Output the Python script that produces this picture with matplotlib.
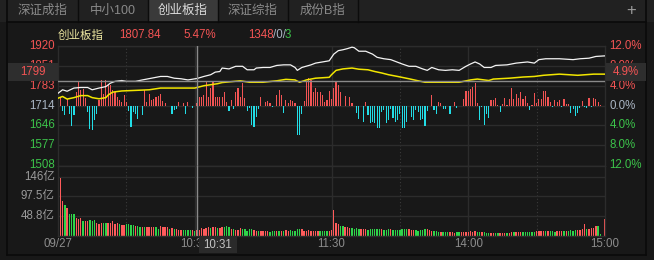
import matplotlib
matplotlib.use('Agg')
import matplotlib.pyplot as plt
from matplotlib.patches import Rectangle
from matplotlib.lines import Line2D

plt.rcParams['font.family'] = ['Liberation Sans', 'Noto Sans CJK SC']

# ---- data ----
tabs = ['深证成指', '中小100', '创业板指', '深证综指', '成份B指']
active_tab = 2
index_name = '创业板指'
prev_close = 1714
cursor_price = 1807.84
cursor_pct = 5.47
up_count, flat_count, down_count = 1348, 0, 3
cursor_minute = 61
cursor_time = '10:31'
cursor_level = 1799
cursor_level_pct = '4.9%'

price_ticks = [1920, 1851, 1783, 1714, 1646, 1577, 1508]
pct_ticks = [12.0, 8.0, 4.0, 0.0, -4.0, -8.0, -12.0]
vol_ticks = [146, 97.5, 48.8]
vol_tick_labels = ['146亿', '97.5亿', '48.8亿']
time_labels = ['09/27', '10:30', '11:30', '14:00', '15:00']
time_label_minutes = [0, 60, 120, 180, 240]

# index line (minute from 9:30, trading minutes only)
idx_minutes = [0, 2, 4, 7, 10, 13, 15, 18, 21, 23, 25, 28, 30, 34, 37, 41, 45, 48, 51, 54,
               57, 61, 64, 67, 69, 71, 72, 75, 78, 81, 83, 86, 87, 90, 93, 96, 99, 102, 104, 105,
               107, 111, 113, 116, 119, 121, 123, 125, 127, 129, 130, 132, 135, 138, 140, 143, 146, 148, 151, 154,
               157, 160, 162, 164, 167, 170, 173, 176, 179, 181, 183, 185, 187, 190, 192, 197, 201, 206, 209, 211,
               214, 220, 226, 229, 233, 236, 240]
idx_prices = [1757, 1769, 1764, 1775, 1777, 1777, 1769, 1775, 1780, 1792, 1798, 1801, 1798, 1798, 1803, 1809, 1815, 1815, 1809, 1807,
              1803, 1808, 1815, 1821, 1830, 1832, 1844, 1841, 1850, 1850, 1838, 1838, 1844, 1846, 1846, 1853, 1855, 1855, 1846, 1836,
              1846, 1855, 1861, 1865, 1869, 1892, 1904, 1907, 1911, 1916, 1914, 1902, 1902, 1892, 1881, 1876, 1873, 1867, 1858, 1850,
              1850, 1841, 1836, 1846, 1838, 1836, 1838, 1836, 1850, 1858, 1865, 1858, 1846, 1846, 1853, 1855, 1861, 1865, 1861, 1873,
              1876, 1876, 1873, 1876, 1878, 1884, 1886]

# yellow line
avg_minutes = [0, 2, 4, 7, 10, 13, 15, 18, 21, 22, 24, 28, 34, 40, 45, 60, 64, 70, 72, 80,
               84, 90, 96, 100, 104, 106, 109, 113, 119, 120, 122, 125, 129, 132, 136, 139, 142, 145, 149, 154,
               158, 161, 176, 181, 184, 189, 191, 198, 204, 209, 213, 220, 228, 235, 240]
avg_prices = [1740, 1746, 1737, 1742, 1749, 1749, 1742, 1738, 1742, 1751, 1761, 1765, 1767, 1769, 1775, 1775, 1783, 1790, 1794, 1800,
              1795, 1795, 1800, 1805, 1803, 1795, 1803, 1809, 1812, 1821, 1836, 1841, 1844, 1840, 1838, 1832, 1827, 1821, 1815, 1807,
              1800, 1795, 1795, 1803, 1806, 1801, 1806, 1809, 1813, 1815, 1819, 1823, 1819, 1823, 1823]

# red / cyan strength bars, in % (one per minute)
strength = [0, 1.8, -1.0, -1.9, 1.4, -1.6, -4.1, -1.9, 2.8, 4.8,
            3.2, 3.4, 1.5, -1.2, -4.6, -4.8, -2.9, -1.6, 1.1, 5.2,
            2.4, 5.2, 4.4, 4.1, 3.1, 2.8, 1.8, 1.1, 0.8, 2.1,
            0.8, -1.1, -4.3, -1.3, -1.6, -2.6, 0, -1.9, 3.1, 0.8,
            2.4, 1.1, 1.4, 1.8, 2.0, 2.3, 1.0, 0.6, 0, 0,
            -1.6, -0.9, -0.6, 0.8, 0, 0.6, -1.6, 0.8, 0, -0.4,
            0, 0.6, 1.8, 1.8, 2.1, 4.8, 1.8, 3.5, 4.8, 1.8,
            1.8, 1.8, 1.8, 2.8, 0.8, -1.0, 1.1, -0.6, 2.8, 3.5,
            1.8, 4.5, 1.5, -1.0, -0.4, -3.9, -4.3, -2.3, -0.6, 1.8,
            0, 0.8, 0.9, 0.6, -0.3, 0, 2.1, 3.1, 2.1, -1.4,
            1.1, 0.6, 1.1, 1.0, 0.6, -5.8, -5.8, -1.6, 0.9, 4.8,
            5.5, 5.1, 2.8, 3.5, 2.8, 2.8, 2.1, 0.8, 1.1, 2.9,
            1.4, 3.5, 4.7, 4.1, 2.7, 0, 2.0, 0, 1.8, 0.5,
            0, -1.5, -2.7, 0, -3.2, 0.8, -1.8, -3.5, -3.2, -3.5,
            -4.5, -4.5, -1.3, -0.8, -3.5, -2.9, -0.6, -2.5, -3.2, -2.9,
            -1.7, -4.4, -4.5, -3.2, 0, -2.2, -2.9, -0.8, -1.2, -2.9,
            -2.7, -4.0, -1.0, 0, 2.2, -0.8, -1.7, 0.7, 0.5, -0.6,
            -0.6, 0, -1.7, 0, 0.7, -0.4, 0, 0, 1.4, 2.9,
            3.0, 3.4, 3.7, 4.5, 0.5, -2.9, -0.2, -3.9, -1.7, -2.5,
            1.2, 1.2, 1.5, 0.2, -1.3, 0.3, 1.5, 0.2, 1.3, 3.5,
            1.3, 2.3, 1.6, 2.7, 1.3, 2.0, 0.6, -0.8, 0.2, 2.5,
            0.5, 1.3, 1.3, 2.9, 3.0, 1.8, 0.8, -0.3, 1.2, 0.8,
            1.2, -0.2, 1.3, 0.3, 0.3, -1.5, -0.6, -2.0, -1.5, -0.5,
            1.0, -0.2, -0.5, 1.6, -0.3, 1.5, 1.3, 0.8, 0.2, 0,
            0]

# volume per minute (亿) and direction
volume = [39, 144, 86, 76, 69, 54, 54, 54, 43, 40,
          43, 36, 35, 36, 39, 36, 39, 32, 29, 30,
          32, 32, 32, 32, 35, 29, 32, 29, 26, 26,
          29, 28, 26, 26, 24, 24, 20, 22, 20, 20,
          20, 22, 20, 20, 16, 24, 20, 20, 20, 16,
          18, 16, 16, 14, 14, 14, 14, 14, 14, 14,
          11, 14, 14, 18, 16, 18, 20, 18, 20, 20,
          18, 18, 20, 22, 24, 20, 16, 16, 14, 14,
          18, 16, 16, 11, 16, 16, 14, 11, 10, 11,
          11, 11, 11, 8, 10, 10, 12, 10, 11, 11,
          14, 10, 14, 10, 12, 16, 16, 16, 11, 11,
          14, 11, 11, 11, 10, 11, 11, 11, 10, 11,
          14, 64, 32, 29, 24, 24, 20, 20, 18, 18,
          15, 18, 16, 16, 16, 16, 14, 16, 16, 16,
          16, 16, 16, 14, 14, 16, 16, 14, 14, 14,
          14, 16, 16, 16, 16, 14, 14, 14, 12, 14,
          14, 16, 16, 14, 12, 11, 11, 9, 9, 9,
          9, 9, 9, 9, 7, 9, 9, 9, 9, 9,
          9, 11, 9, 11, 9, 9, 9, 9, 7, 7,
          6, 6, 6, 6, 6, 6, 6, 6, 6, 9,
          9, 9, 9, 9, 9, 9, 9, 9, 9, 9,
          11, 11, 11, 11, 11, 11, 11, 11, 9, 11,
          11, 11, 11, 11, 11, 14, 11, 14, 14, 14,
          16, 29, 16, 16, 18, 18, 24, 24, 4, 0,
          41]
vol_dir = ('RRRGRGGGRR' 'RGRRGGGRRR' 'GGRRRRRGRR' 'GGGGRGGRGR' 'RRRGGRRRRG'
           'RGRRRGGGGR' 'GRRRRRRGRR' 'GRRGGGRGRR' 'RGGGGGRRGR' 'RRRGGGRGRG'
           'RRGGGGGRRR' 'RRRRRGGGGR' 'RRRRGGRRRG' 'GGGRRRGGGG' 'GGRGGGRGGG'
           'GGGGRRRGGG' 'GGRRRGGGRG' 'GGRRRGGRRR' 'RRRRGGRGGG' 'RRGGRRRGRR'
           'GRRRGGGGGG' 'RRRRGRGGGR' 'RRGRGGGGRR' 'RRGRRRRGGG' 'R')

# ---- style ----
BG = '#181818'
GRID = '#2c2c2c'
RED = '#f25454'
GREEN = '#3cc24a'
CYAN = '#22dde6'
W, H = 654, 260


def fx(x):
    return x / W


def fy(y):
    return 1 - y / H


fig = plt.figure(figsize=(W / 100, H / 100), dpi=100, facecolor=BG)

# tab bar
fig.add_artist(Rectangle((0, fy(21.5)), 1, 21.5 / H, transform=fig.transFigure,
                         facecolor='#212121', edgecolor='none'))
tab_w = 70
for i, name in enumerate(tabs):
    x0 = 8 + i * tab_w
    if i == active_tab:
        fig.add_artist(Rectangle((fx(x0), fy(21.5)), tab_w / W, 21.5 / H, transform=fig.transFigure,
                                 facecolor='#3a3a3a', edgecolor='none'))
    fig.add_artist(Line2D([fx(x0 + tab_w)] * 2, [fy(0), fy(21.5)], transform=fig.transFigure,
                          color='#0c0c0c', lw=1))
    fig.text(fx(x0 + tab_w / 2), fy(11), name, ha='center', va='center', fontsize=9,
             color='#dcdcdc' if i == active_tab else '#8a8a8a')
fig.text(fx(631), fy(11), '+', ha='center', va='center', fontsize=12, color='#9a9a9a')
# frame lines
for xs, ys in [([7, 7], [0, 255]), ([646, 646], [0, 255]), ([7, 646], [21.5, 21.5]), ([7, 646], [255, 255])]:
    fig.add_artist(Line2D([fx(v) for v in xs], [fy(v) for v in ys], transform=fig.transFigure,
                          color='#0a0a0a', lw=1.2))

# axes
ax = fig.add_axes([fx(58), fy(165.5), fx(605) - fx(58), fy(46) - fy(165.5)])
axv = fig.add_axes([fx(58), fy(235.5), fx(605) - fx(58), fy(165.5) - fy(235.5)])
for a in (ax, axv):
    a.set_facecolor(BG)
    a.set_xlim(0, 240)
    a.set_xticks([])
    a.set_yticks([])
    for s in a.spines.values():
        s.set_color(GRID)
        s.set_linewidth(1)
    for m in (30, 150, 210):
        a.axvline(m, color='#3a3a3a', lw=0.8, ls=(0, (1, 2)), zorder=0)
    for m in (60, 120, 180):
        a.axvline(m, color=GRID, lw=1, zorder=0)

ax.set_ylim(price_ticks[-1], price_ticks[0])
for p in price_ticks:
    ax.axhline(p, color=GRID, lw=1, zorder=0)

vol_top = vol_ticks[0] * (235.5 - 165.5) / (235.5 - 177)
axv.set_ylim(0, vol_top)
for v in vol_ticks:
    axv.axhline(v, color=GRID, lw=1, zorder=0)

# strength bars
minutes = list(range(len(strength)))
ax.bar(minutes, [prev_close * s / 100 for s in strength], bottom=prev_close, width=0.5,
       color=[RED if s > 0 else CYAN for s in strength], linewidth=0, zorder=2)
ax.plot(avg_minutes, avg_prices, color='#f2e600', lw=1.1, zorder=3)
ax.plot(idx_minutes, idx_prices, color='#f4f4f4', lw=0.9, zorder=4)

# volume bars
axv.bar(range(len(volume)), volume, width=0.6, linewidth=0,
        color=['#ff5b5b' if d == 'R' else '#2fd34a' for d in vol_dir], zorder=2)

# crosshair
ax.axhline(cursor_level, color='#8a8a8a', lw=1, zorder=5)
ax.axvline(cursor_minute, color='#8a8a8a', lw=1, zorder=5)
axv.axvline(cursor_minute, color='#8a8a8a', lw=1, zorder=5)

# left / right price labels
lab_kw = dict(fontsize=8.3, va='center')
for p, pc in zip(price_ticks, pct_ticks):
    c = RED if pc > 0 else (GREEN if pc < 0 else '#aab6c4')
    ax.text(-0.006, p, str(p), transform=ax.get_yaxis_transform(), ha='right', color=c, **lab_kw)
    ax.text(1.008, p, '%.1f%%' % abs(pc), transform=ax.get_yaxis_transform(), ha='left', color=c, **lab_kw)
for v, t in zip(vol_ticks, vol_tick_labels):
    axv.text(-0.006, v, t, transform=axv.get_yaxis_transform(), ha='right', color='#9a9a9a', **lab_kw)

# cursor value boxes
fig.add_artist(Rectangle((fx(8), fy(81)), 50 / W, 18 / H, transform=fig.transFigure,
                         facecolor='#2e2e2e', edgecolor='none', zorder=10))
fig.text(fx(33), fy(72), str(cursor_level), ha='center', va='center', fontsize=8.3, color=RED, zorder=11)
fig.add_artist(Rectangle((fx(606), fy(81)), 40 / W, 18 / H, transform=fig.transFigure,
                         facecolor='#2e2e2e', edgecolor='none', zorder=10))
fig.text(fx(626), fy(72), cursor_level_pct, ha='center', va='center', fontsize=8.3, color=RED, zorder=11)

# time labels
for m, t in zip(time_label_minutes, time_labels):
    axv.text(m, -0.12, t, transform=axv.get_xaxis_transform(), ha='center', va='center',
             fontsize=8.3, color='#8c8c8c')
fig.add_artist(Rectangle((fx(199), fy(253)), 38 / W, 17 / H, transform=fig.transFigure,
                         facecolor='#2a2a2a', edgecolor='none', zorder=10))
fig.text(fx(218), fy(244.5), cursor_time, ha='center', va='center', fontsize=8.3, color='#c4c4c4', zorder=11)

# header
hy = fy(35.5)
fig.text(fx(58), hy, index_name, ha='left', va='center', fontsize=8.3, color='#ece6a0')
fig.text(fx(119), hy, '%.2f' % cursor_price, ha='left', va='center', fontsize=8.3, color=RED)
fig.text(fx(183), hy, '%.2f%%' % cursor_pct, ha='left', va='center', fontsize=8.3, color=RED)
fig.text(fx(248), hy, str(up_count), ha='left', va='center', fontsize=8.3, color=RED)
fig.text(fx(273), hy, '/%d/' % flat_count, ha='left', va='center', fontsize=8.3, color='#aab6c4')
fig.text(fx(285), hy, str(down_count), ha='left', va='center', fontsize=8.3, color=GREEN)

fig.savefig('out.png', dpi=100, facecolor=BG)
